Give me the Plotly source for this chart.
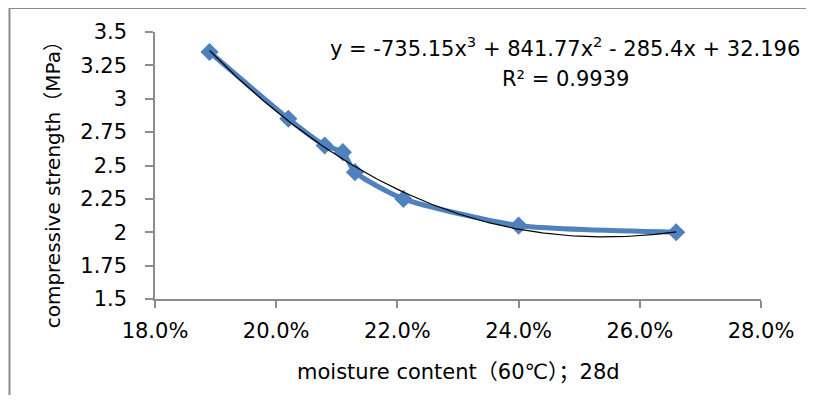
import numpy as np
import plotly.graph_objects as go

# ---- data ----
moisture = [0.189, 0.202, 0.208, 0.211, 0.213, 0.221, 0.240, 0.266]
strength = [3.35, 2.85, 2.65, 2.60, 2.45, 2.25, 2.05, 2.00]
trend_coef = [-735.15, 841.77, -285.4, 32.196]   # cubic trendline (as shown)
r_squared = 0.9939
y_tickvals = [1.5, 1.75, 2, 2.25, 2.5, 2.75, 3, 3.25, 3.5]
y_ticktext = ["1.5", "1.75", "2", "2.25", "2.5", "2.75", "3", "3.25", "3.5"]
x_tickvals = [0.18, 0.20, 0.22, 0.24, 0.26, 0.28]
x_ticktext = ["18.0%", "20.0%", "22.0%", "24.0%", "26.0%", "28.0%"]

FONT = "DejaVu Sans, Noto Sans CJK SC, sans-serif"
AXIS_GRAY = "#8c8c8c"
BLUE = "#4f81bd"

# page body has an 8px margin on every side, so the figure starts at (8, 8)
# and must fit within 814-16 x 403-16 to avoid scrollbars
OFF = 8
W, H = 814 - 2 * OFF, 403 - 2 * OFF
L, T = 155 - OFF, 32 - OFF
R = W - (763 - OFF)
B = H - (299 - OFF)
pw, ph = W - L - R, H - T - B


def px_x(p):  # window pixel -> paper x
    return (p - 155) / pw


def px_y(p):  # window pixel -> paper y
    return (299 - p) / ph


tx = np.linspace(min(moisture), max(moisture), 200)
ty = np.polyval(trend_coef, tx)

fig = go.Figure()
fig.add_trace(go.Scatter(
    x=moisture, y=strength, mode="lines+markers",
    line=dict(color=BLUE, width=5, shape="spline", smoothing=0.6),
    marker=dict(symbol="diamond", size=14, color=BLUE),
    showlegend=False, hoverinfo="x+y"))
fig.add_trace(go.Scatter(
    x=tx, y=ty, mode="lines",
    line=dict(color="black", width=1.2),
    showlegend=False, hoverinfo="skip"))

eq = "y = %.2fx<sup>3</sup> + %.2fx<sup>2</sup> - %.1fx + %.3f" % (
    trend_coef[0], trend_coef[1], -trend_coef[2], trend_coef[3])
fig.add_annotation(text=eq, xref="paper", yref="paper",
                   x=px_x(566), y=px_y(47),
                   xanchor="center", yanchor="middle", showarrow=False,
                   font=dict(family=FONT, size=21, color="black"))
fig.add_annotation(text="R² = %.4f" % r_squared, xref="paper", yref="paper",
                   x=px_x(567), y=px_y(79),
                   xanchor="center", yanchor="middle", showarrow=False,
                   font=dict(family=FONT, size=21, color="black"))

# outer chart border (left and top edges visible)
bx = px_x(9)
by = px_y(8)
fig.add_shape(type="line", xref="paper", yref="paper", x0=bx, x1=bx, y0=px_y(420), y1=by,
              line=dict(color=AXIS_GRAY, width=2))
fig.add_shape(type="line", xref="paper", yref="paper", x0=bx, x1=px_x(830), y0=by, y1=by,
              line=dict(color=AXIS_GRAY, width=2))

fig.add_annotation(text="compressive strength（MPa）", xref="paper", yref="paper",
                   x=px_x(53), y=px_y(180), textangle=-90,
                   xanchor="center", yanchor="middle", showarrow=False,
                   font=dict(family=FONT, size=20, color="black"))
fig.add_annotation(text="moisture content（60℃）；28d", xref="paper", yref="paper",
                   x=px_x(460), y=px_y(372),
                   xanchor="center", yanchor="middle", showarrow=False,
                   font=dict(family=FONT, size=21, color="black"))

fig.update_layout(
    width=W, height=H,
    margin=dict(l=L, r=R, t=T, b=B),
    paper_bgcolor="white", plot_bgcolor="white",
    font=dict(family=FONT, color="black"),
    xaxis=dict(range=[0.18, 0.28], tickvals=x_tickvals, ticktext=x_ticktext,
               showgrid=False, zeroline=False, showline=True,
               linecolor=AXIS_GRAY, linewidth=1.5,
               ticks="outside", ticklen=7, tickcolor=AXIS_GRAY, tickwidth=1.5,
               tickfont=dict(size=21), ticklabelstandoff=5),
    yaxis=dict(range=[1.5, 3.5], tickvals=y_tickvals, ticktext=y_ticktext,
               showgrid=False, zeroline=False, showline=True,
               linecolor=AXIS_GRAY, linewidth=1.5,
               ticks="outside", ticklen=8, tickcolor=AXIS_GRAY, tickwidth=1.5,
               tickfont=dict(size=21), ticklabelstandoff=14),
)

fig.write_html("out.html", config={"displayModeBar": False})
